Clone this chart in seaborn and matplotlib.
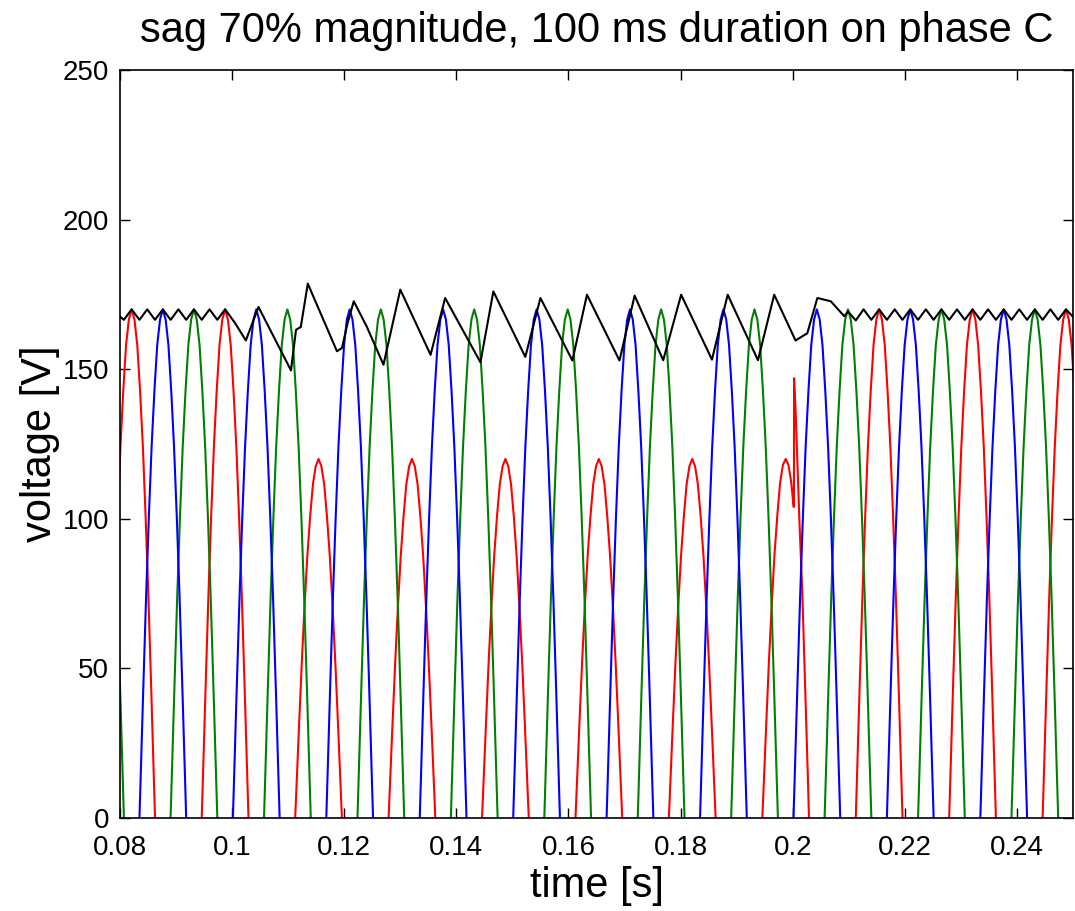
import numpy as np
import pandas as pd
import matplotlib
matplotlib.use("Agg")
import matplotlib.pyplot as plt
import seaborn as sns

# ---------------- data ----------------
title = "sag 70% magnitude, 100 ms duration on phase C"
x_label = "time [s]"
y_label = "voltage [V]"
x_ticks = [0.08, 0.10, 0.12, 0.14, 0.16, 0.18, 0.20, 0.22, 0.24]
x_tick_labels = ["0.08", "0.1", "0.12", "0.14", "0.16", "0.18", "0.2", "0.22", "0.24"]
y_ticks = [0, 50, 100, 150, 200, 250]
y_tick_labels = ["0", "50", "100", "150", "200", "250"]

# normalised half-cycle pulse shape (offset from the peak in seconds, fraction of peak)
pulse_offset_s = [-0.00417, -0.0039, -0.0035, -0.0030, -0.0025, -0.0020, -0.0015, -0.0010, -0.0005, 0.0,
                  0.0005, 0.0010, 0.0015, 0.0020, 0.0025, 0.0030, 0.0035, 0.0039, 0.00417]
pulse_shape = [0.0, 0.10, 0.25, 0.43, 0.59, 0.73, 0.84, 0.93, 0.98, 1.0,
               0.98, 0.93, 0.84, 0.73, 0.59, 0.43, 0.25, 0.10, 0.0]

# phase A (red): peak times and peak voltages; pulses during the sag reach 120 V
red_peak_t = [0.08208, 0.09875, 0.11542, 0.13208, 0.14875, 0.16542, 0.18208, 0.21542, 0.23208, 0.24875]
red_peak_v = [170, 170, 120, 120, 120, 120, 120, 170, 170, 170]
# last sag pulse of phase A, with the recovery spike at 0.2 s
red_recovery_t = [0.19458, 0.19485, 0.19525, 0.19575, 0.19625, 0.19675, 0.19725, 0.19775, 0.19825, 0.19875,
                  0.19925, 0.19975, 0.20005, 0.20015, 0.20022, 0.20024, 0.20052, 0.20082, 0.20118, 0.2017,
                  0.2022, 0.2027, 0.2029]
red_recovery_v = [0, 12, 30, 52, 71, 88, 101, 112, 118, 120,
                  118, 112, 106, 104, 104, 147, 136, 120, 100, 76,
                  45, 14, 0]

# phase B (blue)
blue_peak_t = [0.08764, 0.10431, 0.12097, 0.13764, 0.15431, 0.17097, 0.18764, 0.20431, 0.22097, 0.23764]
blue_peak_v = [170, 170, 170, 170, 170, 170, 170, 170, 170, 170]

# phase C (green)
green_peak_t = [0.07653, 0.09319, 0.10986, 0.12653, 0.14319, 0.15986, 0.17653, 0.19319, 0.20986, 0.22653, 0.24319]
green_peak_v = [170, 170, 170, 170, 170, 170, 170, 170, 170, 170, 170]

# DC-side voltage (black) vertices
dc_t = [0.08, 0.08069, 0.08208, 0.08347, 0.08486, 0.08625, 0.08764, 0.08903, 0.09042, 0.09181,
        0.09319, 0.09458, 0.09597, 0.09736, 0.09875, 0.1005, 0.10245, 0.1047, 0.1105, 0.1114,
        0.11225, 0.1135, 0.1187, 0.1196, 0.1206, 0.1217, 0.124, 0.127, 0.1300, 0.1354,
        0.1380, 0.1443, 0.1466, 0.1523, 0.1550, 0.1607, 0.1633, 0.1691, 0.1718, 0.1769,
        0.1801, 0.1856, 0.1884, 0.1938, 0.1967, 0.2005, 0.2026, 0.2044, 0.2068, 0.2092,
        0.20986, 0.21125, 0.21264, 0.21403, 0.21542, 0.21681, 0.2182, 0.21958, 0.22097, 0.22236,
        0.22375, 0.22514, 0.22653, 0.22792, 0.22931, 0.2307, 0.23208, 0.23347, 0.23486, 0.23625,
        0.23764, 0.23903, 0.24042, 0.24181, 0.2432, 0.24458, 0.24597, 0.24736, 0.24875, 0.25]
dc_v = [167.6, 166.5, 170, 166.5, 170, 166.5, 170, 166.5, 170, 166.5,
        170, 166.5, 170, 166.5, 170, 165.5, 159.6, 170.8, 149.6, 163.2,
        164.1, 178.6, 156.0, 157.1, 165.4, 172.7, 164.3, 151.5, 176.6, 154.8,
        173.8, 152.3, 176.0, 154.1, 173.8, 152.9, 174.9, 152.9, 174.6, 153.0,
        174.9, 153.2, 174.9, 153.0, 174.9, 159.6, 162.0, 173.8, 172.7, 167.7,
        169.3, 166.3, 170, 166.5, 170, 166.5, 170, 166.5, 170, 166.5,
        170, 166.5, 170, 166.5, 170, 166.5, 170, 166.5, 170, 166.5,
        170, 166.5, 170, 166.5, 170, 166.5, 170, 166.5, 170, 167.5]


def pulses_frame(peak_t, peak_v):
    rows = []
    for k, (tp, vp) in enumerate(zip(peak_t, peak_v)):
        for off, frac in zip(pulse_offset_s, pulse_shape):
            rows.append({"t": tp + off, "v": vp * frac, "pulse": k})
    return pd.DataFrame(rows)


red_df = pd.concat([pulses_frame(red_peak_t, red_peak_v),
                    pd.DataFrame({"t": red_recovery_t, "v": red_recovery_v, "pulse": 99})],
                   ignore_index=True)
blue_df = pulses_frame(blue_peak_t, blue_peak_v)
green_df = pulses_frame(green_peak_t, green_peak_v)
dc_df = pd.DataFrame({"t": dc_t, "v": dc_v})

# ---------------- drawing ----------------
sns.set_style("ticks")
plt.rcParams["font.family"] = ["Liberation Sans", "DejaVu Sans"]
plt.rcParams["text.color"] = "black"
plt.rcParams["axes.labelcolor"] = "black"
plt.rcParams["xtick.color"] = "black"
plt.rcParams["ytick.color"] = "black"

fig = plt.figure(figsize=(10.75, 9.11), dpi=100)
ax = fig.add_axes([120 / 1075, 1 - 818 / 911, (1073 - 120) / 1075, (818 - 70) / 911])

lw = 1.5
sns.lineplot(data=red_df, x="t", y="v", units="pulse", estimator=None, sort=False,
             color=(1, 0, 0), lw=lw, ax=ax, legend=False)
sns.lineplot(data=green_df, x="t", y="v", units="pulse", estimator=None, sort=False,
             color=(0, 0.5, 0), lw=lw, ax=ax, legend=False)
sns.lineplot(data=blue_df, x="t", y="v", units="pulse", estimator=None, sort=False,
             color=(0, 0, 1), lw=lw, ax=ax, legend=False)
sns.lineplot(data=dc_df, x="t", y="v", estimator=None, sort=False,
             color="black", lw=lw, ax=ax, legend=False)

ax.set_xlim(0.08, 0.25)
ax.set_ylim(0, 250)
ax.set_xticks(x_ticks)
ax.set_xticklabels(x_tick_labels)
ax.set_yticks(y_ticks)
ax.set_yticklabels(y_tick_labels)
ax.tick_params(direction="in", top=True, right=True, length=7, width=1,
               labelsize=20, colors="black")
ax.tick_params(axis="x", pad=12)
ax.tick_params(axis="y", pad=8)
for s in ax.spines.values():
    s.set_visible(True)
    s.set_linewidth(1.2)
    s.set_color("black")

ax.set_xlabel(x_label, fontsize=30, labelpad=4, color="black")
ax.set_ylabel(y_label, fontsize=30, labelpad=2, color="black")
ax.set_title(title, fontsize=30, pad=20, color="black")

fig.savefig("out.png", dpi=100, facecolor="white")
